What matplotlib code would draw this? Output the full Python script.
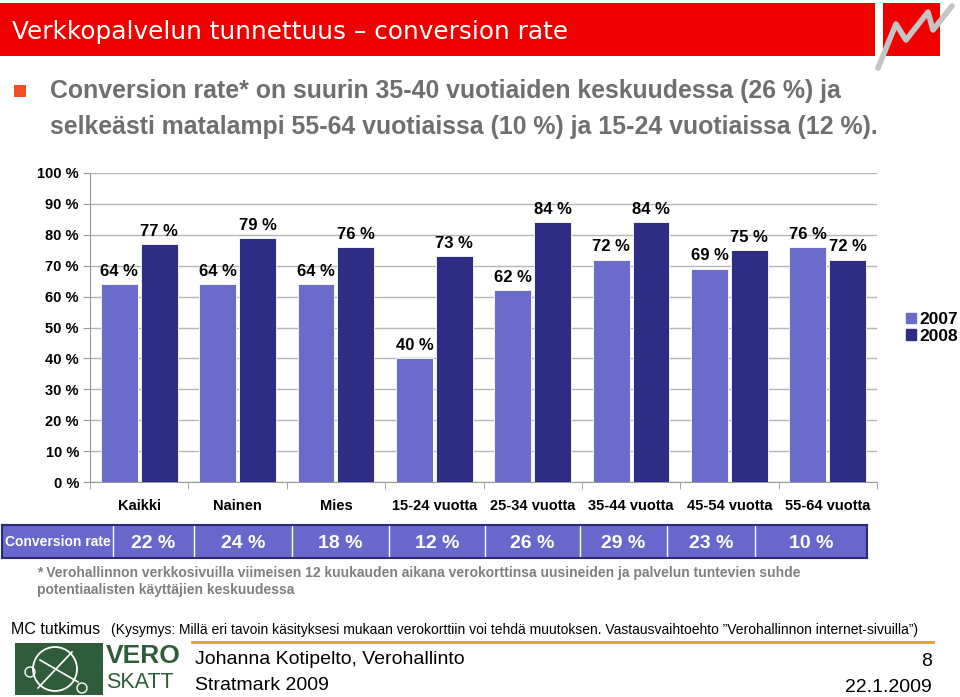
import matplotlib.pyplot as plt
import matplotlib.patches as patches
import numpy as np

plt.rcParams['font.family'] = ['Liberation Sans', 'DejaVu Sans']

# Chart data
categories = ['Kaikki', 'Nainen', 'Mies', '15-24 vuotta', '25-34 vuotta',
              '35-44 vuotta', '45-54 vuotta', '55-64 vuotta']
values_2007 = [64, 64, 64, 40, 62, 72, 69, 76]
values_2008 = [77, 79, 76, 73, 84, 84, 75, 72]
series_labels = ['2007', '2008']
conversion_rate = [22, 24, 18, 12, 26, 29, 23, 10]
y_ticks = [0, 10, 20, 30, 40, 50, 60, 70, 80, 90, 100]

W, H = 960, 697
LIGHT = '#6B6BCB'
DARK = '#2D2D86'
GRAY_TXT = '#6F6F6F'


def fx(px):
    return px / W


def fy(py):
    return 1 - py / H


fig = plt.figure(figsize=(9.6, 6.97), dpi=100)

# slide background layer
bg = fig.add_axes([0, 0, 1, 1])
bg.set_xlim(0, W)
bg.set_ylim(H, 0)
bg.axis('off')

# title bar + logo
bg.add_patch(patches.Rectangle((0, 3), 875, 53, color='#EE0000', lw=0))
bg.add_patch(patches.Rectangle((883, 3), 57, 53, color='#EE0000', lw=0))
bg.plot([878, 896, 906, 928, 933, 952], [68, 24, 40, 12, 30, 6],
        color='#C4C4C4', lw=4, solid_capstyle='round')
bg.text(12, 32, 'Verkkopalvelun tunnettuus \u2013 conversion rate', color='white',
        fontsize=17.8, family='DejaVu Sans', va='center', ha='left')

# bullet text
bg.add_patch(patches.Rectangle((14, 85), 12, 12, color='#F04E23', lw=0))
bg.text(50, 91, 'Conversion rate* on suurin 35-40 vuotiaiden keskuudessa (26 %) ja',
        color=GRAY_TXT, fontsize=17.9, fontweight='bold', va='center')
bg.text(50, 127, 'selkeästi matalampi 55-64 vuotiaissa (10 %) ja 15-24 vuotiaissa (12 %).',
        color=GRAY_TXT, fontsize=17.9, fontweight='bold', va='center')

# footnote
bg.text(37, 573, '* Verohallinnon verkkosivuilla viimeisen 12 kuukauden aikana verokorttinsa '
        'uusineiden ja palvelun tuntevien suhde', color='#7F7F7F', fontsize=10,
        fontweight='bold', va='center')
bg.text(37, 590, 'potentiaalisten käyttäjien keskuudessa', color='#7F7F7F', fontsize=10,
        fontweight='bold', va='center')

# source line
bg.text(11, 629, 'MC tutkimus', fontsize=11.5, va='center', color='black')
bg.text(111, 630, '(Kysymys: Millä eri tavoin käsityksesi mukaan verokorttiin voi tehdä '
        'muutoksen. Vastausvaihtoehto \u201dVerohallinnon internet-sivuilla\u201d)',
        fontsize=10, va='center', color='black')
bg.plot([192, 933], [642, 642], color='#D9A22E', lw=2)

# footer
bg.add_patch(patches.Rectangle((15, 643), 88, 52, color='#2F5D3A', lw=0))
bg.add_patch(patches.Circle((55, 669), 22, fill=False, ec='white', lw=1.3))
bg.plot([38, 72], [688, 652], color='white', lw=1.2)
bg.plot([40, 78], [660, 682], color='white', lw=1.2)
bg.add_patch(patches.Circle((30, 672), 5, fill=False, ec='white', lw=1))
bg.add_patch(patches.Circle((82, 688), 5, fill=False, ec='white', lw=1))
bg.text(106, 656, 'VERO', color='#2F5D3A', fontsize=19, fontweight='bold', va='center')
bg.text(106, 683, 'SKATT', color='#2F5D3A', fontsize=15.5, va='center')
bg.text(195, 659, 'Johanna Kotipelto, Verohallinto', fontsize=14, va='center')
bg.text(195, 686, 'Stratmark 2009', fontsize=14, va='center')
bg.text(932, 661, '8', fontsize=14, va='center', ha='right')
bg.text(932, 687, '22.1.2009', fontsize=14, va='center', ha='right')

# main bar chart
ax = fig.add_axes([fx(90), fy(482), fx(877) - fx(90), fy(173) - fy(482)])
x = np.arange(len(categories))
bw = 0.375
b1 = ax.bar(x - bw / 2 - 0.015, values_2007, bw, color=LIGHT, edgecolor='white',
            lw=0.6, label=series_labels[0], zorder=3)
b2 = ax.bar(x + bw / 2 + 0.015, values_2008, bw, color=DARK, edgecolor='white',
            lw=0.6, label=series_labels[1], zorder=3)
for bars, vals in ((b1, values_2007), (b2, values_2008)):
    for r, v in zip(bars, vals):
        ax.annotate(f'{v} %', (r.get_x() + r.get_width() / 2, v),
                    xytext=(0, 6), textcoords='offset points', ha='center',
                    va='baseline', fontsize=12, fontweight='bold')

ax.set_xlim(-0.5, len(categories) - 0.5)
ax.set_ylim(0, 100)
ax.set_yticks(y_ticks)
ax.set_yticklabels([f'{t} %' for t in y_ticks], fontsize=10.5, fontweight='bold')
ax.set_xticks(x)
ax.set_xticklabels(categories, fontsize=10.5, fontweight='bold')
ax.set_xticks(np.arange(len(categories) + 1) - 0.5, minor=True)
ax.tick_params(axis='x', which='major', length=0, pad=12)
ax.tick_params(axis='x', which='minor', length=5, color='#999999')
ax.tick_params(axis='y', length=5, color='#999999', pad=3)
ax.grid(axis='y', color='#B5B5B5', lw=1, zorder=0)
for s in ('top', 'right'):
    ax.spines[s].set_visible(False)
for s in ('left', 'bottom'):
    ax.spines[s].set_color('#999999')

handles = [patches.Patch(color=LIGHT), patches.Patch(color=DARK)]
fig.legend(handles, series_labels, loc='center left',
           bbox_to_anchor=(fx(906), fy(328)), frameon=False,
           prop={'size': 12.5, 'weight': 'bold'}, handlelength=0.55,
           handleheight=0.55, handletextpad=0.2, labelspacing=0.1,
           borderaxespad=0, borderpad=0)

# conversion rate strip
col_edges = [113, 194, 292, 389, 485, 580, 667, 755, 867]
sx = fig.add_axes([fx(2), fy(558), fx(867) - fx(2), fy(525) - fy(558)])
sx.set_xlim(2, 867)
sx.set_ylim(0, 1)
sx.set_facecolor('#6868CC')
sx.set_xticks([])
sx.set_yticks([])
for s in sx.spines.values():
    s.set_color('#2B2B7A')
    s.set_linewidth(1.5)
for e in col_edges[:-1]:
    sx.axvline(e, color='white', lw=1)
sx.text(5, 0.5, 'Conversion rate', color='white', fontsize=10, fontweight='bold',
        va='center', ha='left')
for i, v in enumerate(conversion_rate):
    sx.text((col_edges[i] + col_edges[i + 1]) / 2, 0.45, f'{v} %', color='white',
            fontsize=14, fontweight='bold', va='center', ha='center')

fig.savefig('out.png', dpi=100)
